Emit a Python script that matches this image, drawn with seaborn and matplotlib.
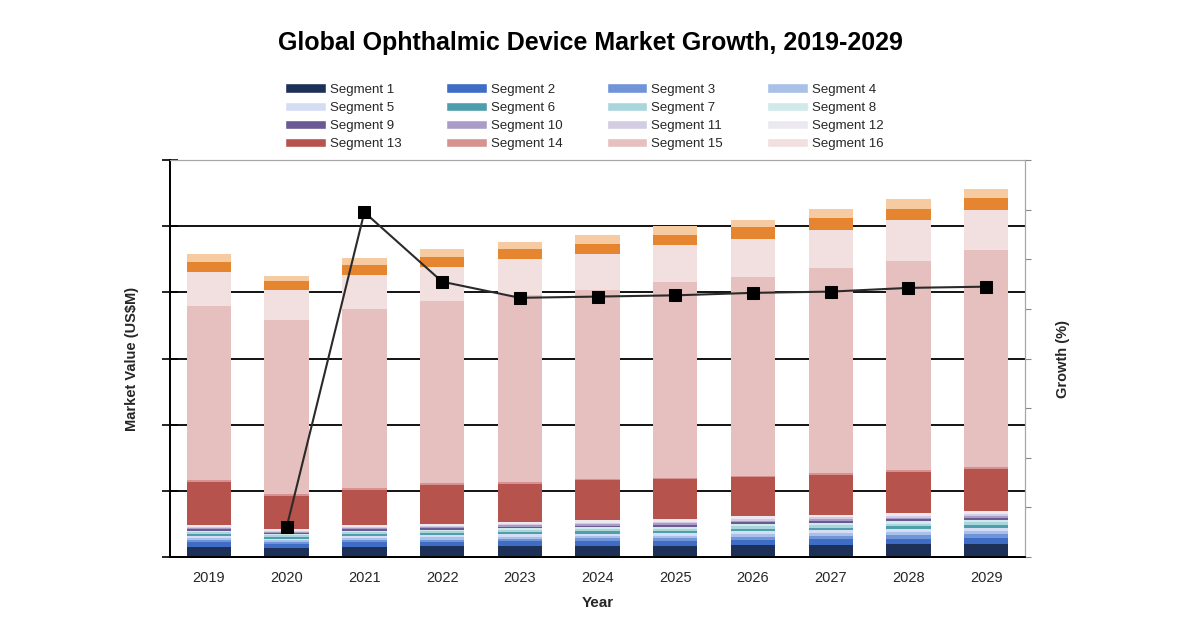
import numpy as np
import pandas as pd
import matplotlib
matplotlib.use("Agg")
import matplotlib.pyplot as plt
from matplotlib.patches import Patch
import seaborn as sns

# market value by segment, US$M
years = [2019, 2020, 2021, 2022, 2023, 2024, 2025, 2026, 2027, 2028, 2029]
seg1 = [78, 68, 78, 80, 82, 84, 82, 88, 92, 96, 100]
seg2 = [32, 28, 32, 34, 36, 37, 38, 42, 42, 44, 46]
seg3 = [17, 15, 17, 18, 19, 20, 21, 23, 24, 25, 26]
seg4 = [16, 14, 16, 17, 18, 19, 20, 22, 23, 24, 25]
seg5 = [15, 13, 15, 15, 16, 17, 18, 19, 20, 21, 22]
seg6 = [15, 13, 15, 16, 17, 18, 19, 21, 21, 22, 23]
seg7 = [14, 12, 14, 14, 15, 16, 17, 18, 19, 20, 21]
seg8 = [11, 10, 11, 12, 13, 14, 15, 16, 16, 17, 18]
seg9 = [11, 9, 11, 11, 12, 13, 13, 14, 15, 15, 16]
seg10 = [10, 9, 10, 10, 11, 12, 12, 13, 14, 14, 15]
seg11 = [10, 8, 10, 10, 11, 11, 12, 13, 13, 14, 14]
seg12 = [15, 13, 15, 15, 16, 17, 18, 19, 20, 21, 22]
seg13 = [325, 249, 265, 295, 287, 302, 302, 295, 302, 310, 317]
seg14 = [12, 12, 12, 12, 12, 13, 13, 13, 13, 14, 14]
seg15 = [1315, 1315, 1353, 1375, 1413, 1428, 1481, 1504, 1549, 1579, 1640]
seg16 = [257, 227, 257, 257, 272, 272, 280, 287, 287, 310, 302]
seg17 = [76, 68, 76, 76, 76, 76, 76, 91, 91, 83, 91]
seg18 = [60, 45, 53, 60, 53, 68, 68, 53, 68, 76, 68]

# growth (%), no value for 2019
growth_years = [2020, 2021, 2022, 2023, 2024, 2025, 2026, 2027, 2028, 2029]
growth = [-5.6, 19.8, 14.2, 12.9, 13.0, 13.1, 13.3, 13.4, 13.7, 13.8]

segments = [seg1, seg2, seg3, seg4, seg5, seg6, seg7, seg8, seg9,
            seg10, seg11, seg12, seg13, seg14, seg15, seg16, seg17, seg18]
names = ["Segment %d" % (i + 1) for i in range(18)]
colors = ["#1c3058", "#3f6cc4", "#6f95d8", "#a9c0e8", "#d4ddf3",
          "#4e9eac", "#a9d5dc", "#d0e9ea",
          "#6b5993", "#a99dc8", "#d3cce3", "#ebe9ef",
          "#b5534c", "#d59291", "#e5c0bf", "#f2dfdf",
          "#e5852f", "#f6cba2"]

df = pd.DataFrame({"Year": [str(y) for y in years]})
for n, s in zip(names, segments):
    df[n] = s
cum = df[names].cumsum(axis=1)

sns.set_style("white")
plt.rcParams["font.family"] = ["Liberation Sans", "DejaVu Sans"]

fig = plt.figure(figsize=(12, 6.28), dpi=100)
ax = fig.add_axes([0.1417, 0.113, 0.7125, 0.632])

# stack by overplotting cumulative totals, top segment first
for i in reversed(range(len(names))):
    sns.barplot(x=df["Year"], y=cum[names[i]], color=colors[i], saturation=1,
                width=0.57, linewidth=0, edgecolor="none", ax=ax)

ax.set_ylim(0, 3000)
ax.set_yticks(np.arange(0, 3001, 500))
ax.set_yticklabels([])
ax.set_axisbelow(True)
ax.yaxis.grid(True, color="black", linewidth=1.3)
ax.xaxis.grid(False)
ax.set_xticks(np.arange(-0.5, len(years), 1), minor=True)
ax.tick_params(axis="x", which="major", length=0, labelsize=10.5, pad=10)
ax.tick_params(axis="x", which="minor", direction="inout", length=8, width=1.2, color="black")
ax.tick_params(axis="y", direction="inout", length=12, width=1.2, color="black", left=True)
ax.set_xlabel("Year", fontsize=11, fontweight="bold", labelpad=8)
ax.set_ylabel("Market Value (US\\$M)", fontsize=10.5, fontweight="bold", labelpad=13)

ax2 = ax.twinx()
xpos = [years.index(y) for y in growth_years]
sns.lineplot(x=xpos, y=growth, ax=ax2, color="#2a2a2a", linewidth=1.5,
             marker="s", markersize=8, markerfacecolor="black",
             markeredgecolor="black")
ax2.set_ylim(-8, 24)
ax2.set_yticks(np.arange(-8, 25, 4))
ax2.set_yticklabels([])
ax2.tick_params(axis="y", direction="out", length=4, color="#888888", right=True)
ax2.set_ylabel("Growth (%)", fontsize=10.5, fontweight="bold", labelpad=15)
ax2.set_xlim(-0.5, len(years) - 0.5)
ax.set_xlim(-0.5, len(years) - 0.5)

for a in (ax, ax2):
    a.spines["left"].set_color("black")
    a.spines["left"].set_linewidth(1.3)
    a.spines["bottom"].set_color("black")
    a.spines["bottom"].set_linewidth(1.3)
    a.spines["top"].set_color("#a6a6a6")
    a.spines["right"].set_color("#a6a6a6")

# legend row by row, segments 1-16 only
handles = [Patch(facecolor=colors[i], label=names[i]) for i in range(16)]
order = [r * 4 + c for c in range(4) for r in range(4)]
fig.legend([handles[k] for k in order], [names[k] for k in order],
           loc="upper center", bbox_to_anchor=(0.487, 0.886), ncol=4,
           frameon=False, fontsize=9.5, handlelength=3.1, handleheight=0.7,
           handletextpad=0.3, labelspacing=0.45, columnspacing=3.35)

fig.text(0.492, 1 - 43 / 628, "Global Ophthalmic Device Market Growth, 2019-2029",
         ha="center", va="center", fontsize=18, fontweight="bold", color="black")

fig.savefig("out.png", dpi=100)
